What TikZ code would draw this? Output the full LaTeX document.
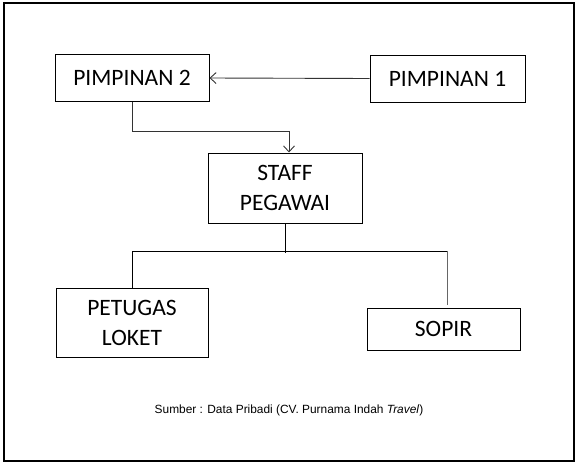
\documentclass[tikz,border=0pt]{standalone}
\usepackage{fontspec}
\setmainfont{Carlito}
\newfontfamily\capfont{Liberation Sans}
\usetikzlibrary{arrows.meta}
\begin{document}
\begin{tikzpicture}[x=1pt,y=-1pt,
  box/.style={draw=black, line width=1pt, rectangle, inner sep=0pt, align=center,
    font=\fontsize{23.5}{30}\selectfont},
  conn/.style={draw=black!80, line width=0.9pt},
  tip/.style={-{Straight Barb[length=6pt,width=11pt,line width=0.9pt]}}]
\useasboundingbox (0,0) rectangle (579,466);
\draw[line width=1.5pt] (4,3) rectangle (574,461);
\node[box, minimum width=154pt, minimum height=47pt] (p2) at (132,78) {PIMPINAN 2};
\node[box, minimum width=155pt, minimum height=47pt] (p1) at (447.5,78.5) {PIMPINAN 1};
\node[box, minimum width=154pt, minimum height=70pt] (staff) at (285,188) {STAFF\\PEGAWAI};
\node[box, minimum width=152pt, minimum height=69pt] (pet) at (132,322.5) {PETUGAS\\LOKET};
\node[box, minimum width=153pt, minimum height=42pt] (sop) at (443.5,329) {SOPIR};
\node[font=\capfont\fontsize{11.9}{14}\selectfont] (cap) at (289,410) {Sumber : Data Pribadi (CV. Purnama Indah \textit{Travel})};
\coordinate (e1) at (289,131.5);
\coordinate (bus) at (286,253);
\coordinate (r1) at (447,251);
\coordinate (r2) at (447,305);
\draw[conn,tip] (p1.west) -- (p2.east);
\draw[conn,tip] (p2.south) |- (e1) -- (e1 |- staff.north);
\draw[conn,black] (staff.south) -- (staff.south |- bus);
\draw[conn,black] (pet.north) |- (r1);
\draw[conn,black!60] (r1) -- (r2);
\end{tikzpicture}
\end{document}
